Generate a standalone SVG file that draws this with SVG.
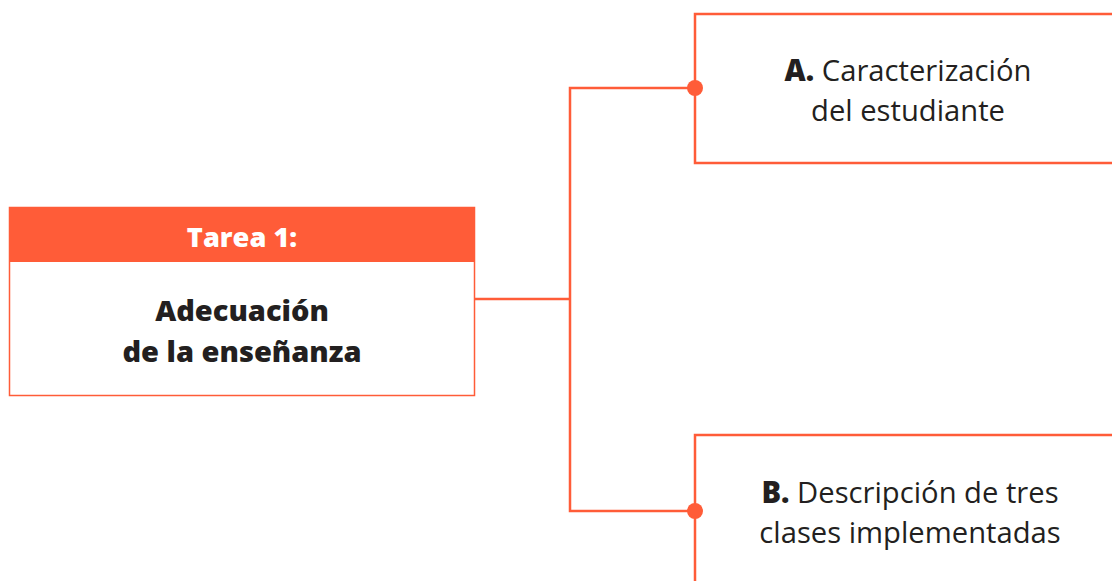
<svg xmlns="http://www.w3.org/2000/svg" width="1112" height="581" viewBox="0 0 1112 581">
<style>
.ln{fill:none;stroke:#ff5c38;stroke-width:2.5}
.dot{fill:#ff5c38}
.t{font-family:"Open Sans",Lato,sans-serif;fill:#231f20;text-anchor:middle}
.b{font-weight:800}
</style>
<rect width="1112" height="581" fill="#ffffff"/>
<g id="connectors">
<polyline class="ln" points="474,299 570,299"/>
<polyline class="ln" points="695,88 570,88 570,511 695,511"/>
</g>
<g id="task">
<rect x="9.5" y="207.5" width="465" height="188" fill="#fff" stroke="#ff5c38" stroke-width="1.5"/>
<rect x="9" y="207" width="466" height="55" fill="#ff5c38"/>
<text class="t b" x="242" y="247" font-size="27.2" style="fill:#fff">Tarea 1:</text>
<text class="t b" x="242" y="321" font-size="29">Adecuación</text>
<text class="t b" x="242" y="362" font-size="29">de la enseñanza</text>
</g>
<g id="nodeA">
<polyline class="ln" points="1113,14 695,14 695,163 1113,163"/>
<circle class="dot" cx="695" cy="88" r="8"/>
<text class="t" x="908" y="81" font-size="29.2"><tspan class="b">A.</tspan> Caracterización</text>
<text class="t" x="908" y="121" font-size="29.2">del estudiante</text>
</g>
<g id="nodeB">
<polyline class="ln" points="1113,435 695,435 695,582"/>
<circle class="dot" cx="695" cy="511" r="8"/>
<text class="t" x="910" y="503" font-size="29.2"><tspan class="b">B.</tspan> Descripción de tres</text>
<text class="t" x="910" y="543" font-size="29.2">clases implementadas</text>
</g>
</svg>
